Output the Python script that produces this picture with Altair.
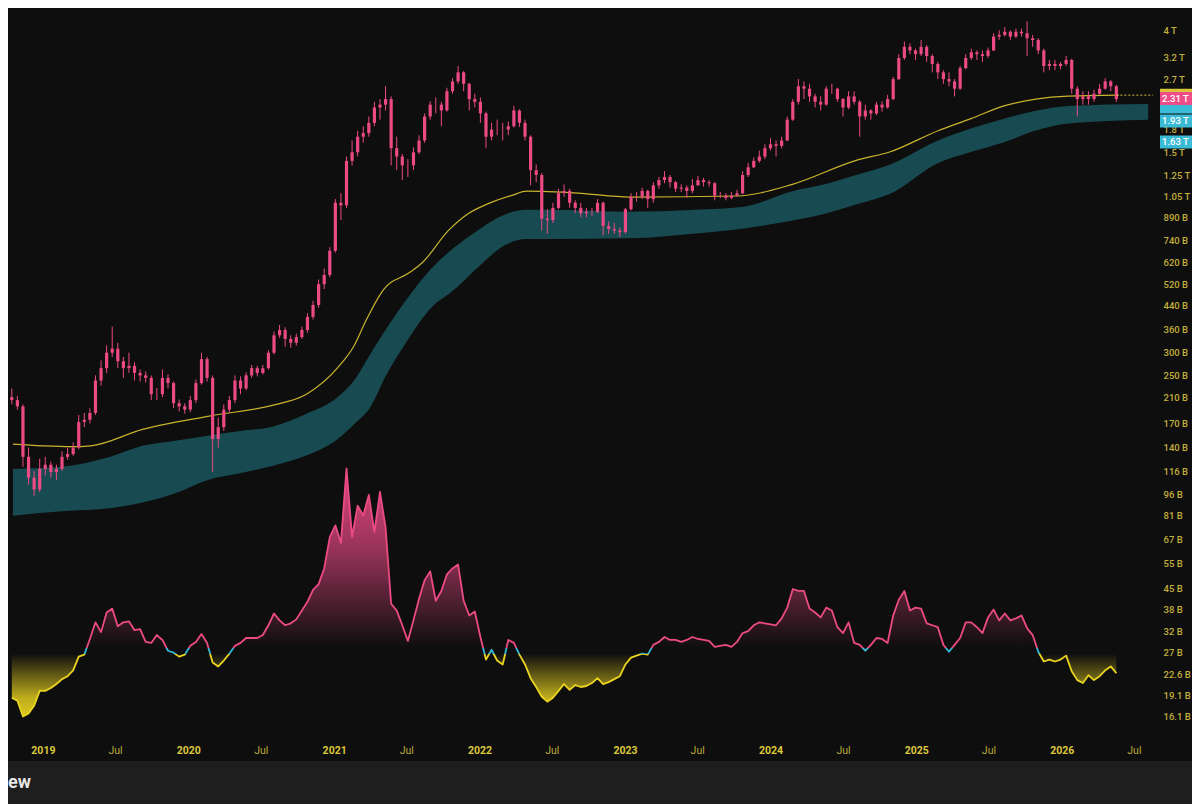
import altair as alt
import pandas as pd

# ---------------- data ----------------
# Total crypto market cap, bi-weekly candles, values in billions USD
CANDLE_START = "2018-10-15"
FIRST_OPEN = 210
CLOSE = [205, 195, 130, 110, 100, 118, 122, 115, 118, 130,
         133, 140, 172, 175, 185, 240, 265, 300, 310, 280,
         265, 270, 255, 250, 245, 215, 215, 245, 235, 200,
         195, 190, 205, 235, 285, 245, 150, 165, 190, 205,
         240, 225, 250, 265, 255, 265, 300, 345, 360, 335,
         325, 340, 360, 400, 440, 520, 560, 680, 1000, 980,
         1400, 1500, 1700, 1750, 1900, 2150, 2200, 2300, 1550, 1450,
         1350, 1350, 1500, 1650, 2000, 2200, 2200, 2100, 2450, 2650,
         2850, 2600, 2300, 2250, 2050, 1700, 1800, 1800, 1800, 1850,
         2100, 1900, 1700, 1300, 1250, 880, 870, 960, 1080, 1100,
         1000, 960, 920, 930, 930, 1000, 830, 810, 800, 790,
         950, 1050, 1050, 1100, 1030, 1150, 1200, 1230, 1180, 1120,
         1130, 1100, 1150, 1200, 1180, 1170, 1060, 1060, 1040, 1060,
         1080, 1250, 1330, 1400, 1450, 1550, 1600, 1580, 1650, 1950,
         2250, 2550, 2500, 2350, 2250, 2200, 2500, 2500, 2300, 2150,
         2350, 2250, 2000, 2100, 2050, 2200, 2150, 2300, 2700, 3200,
         3500, 3400, 3300, 3500, 3250, 3050, 2850, 2700, 2650, 2500,
         2950, 3200, 3350, 3300, 3250, 3400, 3800, 3850, 3950, 3800,
         3950, 3900, 3750, 3700, 3400, 3000, 3050, 3000, 3050, 3150,
         2500, 2300, 2350, 2300, 2400, 2500, 2650, 2550, 2300]
HIGH = [225, 212, 198, 140, 116, 128, 130, 125, 122, 136,
        140, 146, 182, 185, 192, 250, 282, 318, 370, 325,
        290, 300, 278, 262, 258, 250, 226, 262, 252, 238,
        206, 200, 212, 242, 300, 290, 250, 178, 198, 212,
        250, 248, 256, 272, 270, 272, 306, 356, 375, 368,
        345, 350, 370, 412, 455, 540, 590, 700, 1030, 1080,
        1450, 1650, 1780, 1850, 2000, 2250, 2300, 2550, 2350, 1700,
        1480, 1420, 1560, 1720, 2050, 2260, 2330, 2250, 2520, 2720,
        3000, 2880, 2620, 2400, 2330, 2080, 1900, 1950, 1900, 1920,
        2180, 2120, 1950, 1720, 1360, 1270, 950, 1000, 1120, 1160,
        1120, 1020, 1000, 960, 960, 1030, 1010, 860, 850, 820,
        960, 1080, 1090, 1130, 1110, 1180, 1230, 1290, 1250, 1190,
        1160, 1150, 1210, 1240, 1220, 1200, 1180, 1090, 1080, 1090,
        1110, 1290, 1380, 1440, 1520, 1600, 1680, 1650, 1700, 2000,
        2300, 2700, 2650, 2600, 2400, 2350, 2550, 2600, 2520, 2320,
        2450, 2450, 2280, 2200, 2120, 2250, 2260, 2380, 2750, 3300,
        3650, 3600, 3450, 3700, 3550, 3300, 3100, 2900, 2850, 2700,
        3000, 3300, 3450, 3400, 3400, 3480, 3900, 4000, 4100, 4000,
        4050, 4050, 4300, 3850, 3750, 3450, 3150, 3150, 3100, 3250,
        3180, 2550, 2450, 2450, 2480, 2600, 2720, 2680, 2580]
LOW = [198, 190, 120, 104, 95, 98, 112, 110, 108, 116,
       127, 131, 138, 165, 170, 182, 230, 255, 290, 265,
       245, 255, 240, 238, 236, 205, 205, 210, 225, 192,
       187, 184, 186, 200, 232, 238, 115, 140, 160, 185,
       200, 215, 222, 245, 248, 252, 262, 296, 338, 315,
       312, 318, 335, 352, 392, 430, 500, 550, 670, 870,
       960, 1350, 1450, 1620, 1700, 1850, 1950, 2100, 1350, 1300,
       1200, 1230, 1300, 1480, 1620, 1950, 2050, 1850, 2080, 2400,
       2600, 2450, 2100, 2150, 1900, 1550, 1650, 1720, 1650, 1720,
       1830, 1840, 1650, 1150, 1180, 800, 780, 850, 950, 1050,
       960, 920, 890, 890, 900, 920, 770, 780, 780, 760,
       780, 940, 1010, 1030, 960, 1000, 1120, 1170, 1130, 1090,
       1090, 1040, 1080, 1150, 1140, 1140, 1020, 1040, 1020, 1030,
       1050, 1070, 1230, 1320, 1380, 1420, 1520, 1450, 1550, 1640,
       1930, 2200, 2300, 2250, 2150, 2100, 2180, 2400, 2250, 2000,
       2120, 2200, 1700, 1950, 1950, 2020, 2080, 2130, 2280, 2680,
       3150, 3300, 3150, 3250, 3100, 2850, 2700, 2600, 2550, 2350,
       2480, 2920, 3150, 3150, 3100, 3200, 3380, 3700, 3800, 3700,
       3750, 3800, 3250, 3500, 3300, 2850, 2900, 2900, 2920, 3000,
       2400, 2000, 2200, 2200, 2250, 2380, 2480, 2450, 2250]

# Oscillator (same bi-weekly dates, index units)
OSC = [-12.25, -13, -17, -16.25, -14.25, -10.5, -10.5, -9.75, -8.75, -7.5,
       -6.75, -5.25, -1.75, -1.25, 2.75, 7, 4.5, 9.5, 10.5, 6,
       7, 7.25, 5, 5.25, 2, 1.75, 3.75, 2.5, -0.25, -0.75,
       -1.75, -1.25, 1, 2, 4, 1.75, -3.25, -4.25, -2.75, -1,
       1, 1.75, 3, 3, 3, 3.75, 6.25, 9.25, 7.5, 6.25,
       6.75, 7.75, 10, 12.25, 15.25, 16.75, 20.75, 28.75, 31.75, 27.25,
       46.25, 28.75, 36.75, 34.25, 39.5, 30, 40.25, 31.25, 11.75, 10,
       6.25, 2.25, 7.5, 13, 17.75, 20, 12.5, 15, 19.25, 20.75,
       21.75, 12.5, 8.75, 9.75, 3.25, -2.5, 0, -2.75, -3.75, 2.5,
       1.75, -1.25, -3.75, -7.25, -9.5, -12, -13.25, -12.25, -10.5, -8.75,
       -10.25, -9, -9.5, -9.25, -8.5, -7.25, -8.75, -8.25, -7.5, -6.75,
       -3.75, -2, -1.5, -1, -1.25, 1.25, 2, 3.25, 2.5, 2.5,
       2, 2.5, 3.25, 2.75, 2.5, 2.25, 0.75, 1, 1.25, 0.75,
       2, 4.25, 4.75, 6.25, 7, 6.75, 6.5, 6.25, 8, 10.75,
       15.5, 15, 15, 10.5, 9.5, 8.25, 10.75, 10, 5.75, 4.25,
       7, 1.75, 1.25, -0.25, 1.25, 3, 2.75, 1.75, 8.75, 12.75,
       15, 10, 10.75, 10.5, 6.75, 6.25, 5.75, 1.25, -0.5, 1.25,
       3, 7, 7, 5.75, 4.25, 8.25, 10.25, 7.5, 9.25, 7.5,
       8, 8.75, 5.5, 3.75, -0.5, -3, -2.5, -3, -2.5, -1.5,
       -5.5, -7.75, -8.5, -6.5, -7.75, -6.75, -5.25, -4.25, -6]
OSC_UPPER = 0.5
OSC_LOWER = -1.0

# Long moving average (yellow line), billions
MA_DATES = ["2018-10-18", "2018-12-31", "2019-03-13", "2019-05-01", "2019-09-08",
            "2020-02-19", "2020-08-01", "2020-10-21", "2021-01-10", "2021-02-20",
            "2021-03-21", "2021-05-04", "2021-07-09", "2021-08-10", "2021-10-15",
            "2021-12-03", "2022-01-21", "2022-03-25", "2022-04-29", "2022-09-05",
            "2023-01-13", "2023-10-09", "2024-02-25", "2024-08-07", "2024-10-26",
            "2025-02-26", "2025-05-18", "2025-08-09", "2025-10-28", "2026-01-17",
            "2026-05-24"]
MA_VALUES = [144, 142, 141, 142, 162, 180, 197, 214, 266, 317,
             386, 496, 571, 618, 801, 916, 991, 1064, 1098, 1081,
             1047, 1056, 1160, 1412, 1504, 1788, 1965, 2177, 2300, 2355,
             2374]

# Cyan band, billions
BAND_DATES = ["2018-10-18", "2019-02-17", "2019-06-19", "2019-09-08", "2019-11-29",
              "2020-02-19", "2020-05-10", "2020-08-01", "2020-10-21", "2021-01-10",
              "2021-02-20", "2021-04-02", "2021-05-11", "2021-06-22", "2021-09-04",
              "2021-10-22", "2022-01-04", "2022-02-22", "2022-04-29", "2022-06-24",
              "2023-01-13", "2023-06-26", "2023-10-26", "2024-02-25", "2024-05-16",
              "2024-08-07", "2024-10-26", "2025-02-26", "2025-05-18", "2025-08-09",
              "2025-10-28", "2026-01-17", "2026-08-06"]
BAND_TOP = [118, 120, 130, 142, 148, 154, 160, 166, 183, 210,
            240, 297, 362, 441, 594, 685, 814, 895, 945, 945,
            930, 945, 968, 1098, 1160, 1255, 1358, 1653, 1817, 1965,
            2094, 2177, 2212]
BAND_BOTTOM = [81, 84, 86, 90, 97, 108, 114, 121, 131, 150,
               169, 194, 250, 312, 434, 488, 608, 696, 747, 747,
               752, 782, 814, 867, 916, 991, 1073, 1379, 1504, 1627,
               1788, 1890, 1950]

Y_TICKS = [4000, 3200, 2700, 1800, 1500, 1250, 1050, 890, 740, 620, 520, 440,
           360, 300, 250, 210, 170, 140, 116, 96, 81, 67, 55, 45, 38, 32, 27,
           22.6, 19.1, 16.1]
X_TICK_YEARS = [2019, 2020, 2021, 2022, 2023, 2024, 2025, 2026]

BADGE_VALUES = [2374, 2160, 2310, 1930, 1630]
BADGE_LABELS = ["", "", "2.31 T", "1.93 T", "1.63 T"]
BADGE_COLORS = ["#d9c43a", "#3bbad6", "#ee4d87", "#3bbad6", "#3bbad6"]

X_DOMAIN = ("2018-10-18", "2026-08-18")
Y_DOMAIN = [13.92, 4780]
OSC_DOMAIN = [-21.75, 163.75]

# ---------------- style ----------------
W, H = 1150, 727
PINK = "#ec4a84"
CYAN = "#36b6d4"
YELLOW = "#e9d320"
BG = "#0e0e0e"
FOOTER_BG = "#1e1e1e"
FONT = "Roboto"

# ---------------- frames ----------------
dates = pd.date_range(CANDLE_START, periods=len(CLOSE), freq="14D")
candles = pd.DataFrame({"date": dates, "open": [FIRST_OPEN] + CLOSE[:-1],
                        "close": CLOSE, "high": HIGH, "low": LOW})
osc = pd.DataFrame({"date": dates, "osc": OSC})
ma = pd.DataFrame({"date": pd.to_datetime(MA_DATES), "ma": MA_VALUES})
band = pd.DataFrame({"date": pd.to_datetime(BAND_DATES), "top": BAND_TOP, "bottom": BAND_BOTTOM})
x_end = pd.Timestamp(X_DOMAIN[1])
last = pd.DataFrame({"d0": [dates[-1]], "d1": [x_end], "v": [MA_VALUES[-1]]})
badges = pd.DataFrame({"v": BADGE_VALUES, "label": BADGE_LABELS, "color": BADGE_COLORS})
footer = pd.DataFrame({"t": ["ew"]})


def dt(s):
    d = pd.Timestamp(s)
    return alt.DateTime(year=d.year, month=d.month, date=d.day)


xscale = alt.Scale(domain=[dt(X_DOMAIN[0]), dt(X_DOMAIN[1])], nice=False)
xaxis = alt.Axis(
    values=[alt.DateTime(year=y, month=m, date=1) for y in X_TICK_YEARS for m in (1, 7)],
    labelExpr="month(datum.value) == 0 ? timeFormat(datum.value, '%Y') : 'Jul'",
    labelFontWeight={"condition": {"test": "month(datum.value) == 0", "value": "bold"}, "value": "normal"},
    labelColor={"condition": {"test": "month(datum.value) == 0", "value": "#dcc83c"}, "value": "#bba93a"},
    ticks=False, tickSize=0, domain=False, grid=False, labelPadding=15,
    labelBaseline="middle", labelFontSize=10.5, labelFont=FONT,
    labelOverlap=False, labelFlush=False, title=None)
yscale = alt.Scale(type="log", domain=Y_DOMAIN, nice=False, zero=False)
yaxis = alt.Axis(
    orient="right", values=Y_TICKS,
    labelExpr="datum.value >= 1000 ? (datum.value / 1000) + ' T' : datum.value + ' B'",
    ticks=False, tickSize=0, domain=False, grid=False, labelPadding=5,
    labelColor="#c3af3b", labelFontSize=9.5, labelFont=FONT, labelFontWeight=500,
    labelOverlap=False, labelFlush=False, title=None)
oscale = alt.Scale(domain=OSC_DOMAIN, nice=False, zero=False)


def X(f):
    return alt.X(f"{f}:T", scale=xscale, axis=xaxis)


def Y(f):
    return alt.Y(f"{f}:Q", scale=yscale, axis=yaxis)


def OY(f):
    return alt.Y(f"{f}:Q", scale=oscale, axis=None)


# ---------------- price layers ----------------
band_area = alt.Chart(band).mark_area(color="#1a5b63", opacity=0.8, interpolate="monotone").encode(
    x=X("date"), y=Y("top"), y2="bottom:Q")
ma_line = alt.Chart(ma).mark_line(color="#c9b42c", strokeWidth=1.2, interpolate="monotone").encode(
    x=X("date"), y=Y("ma"))
wicks = alt.Chart(candles).mark_rule(color=PINK, strokeWidth=1).encode(
    x=X("date"), y=Y("low"), y2="high:Q")
bodies = alt.Chart(candles).mark_bar(color=PINK, width=3.2).encode(
    x=X("date"), y=Y("open"), y2="close:Q")
dotted = alt.Chart(last).mark_rule(color="#d9c43a", strokeDash=[2, 2], strokeWidth=1).encode(
    x=X("d0"), x2="d1:T", y=Y("v"))
badge_rect = alt.Chart(badges).mark_rect(yOffset=-6.5, y2Offset=6.5).encode(
    x=alt.value(W + 2), x2=alt.value(W + 60), y=Y("v"), y2="v:Q",
    color=alt.Color("color:N", scale=None))
badge_text = alt.Chart(badges).mark_text(align="left", baseline="middle", fontSize=9.5,
                                         font=FONT, fontWeight=500, color="#ffffff").encode(
    x=alt.value(W + 4), y=Y("v"), text="label:N")
price = alt.layer(band_area, ma_line, wicks, bodies, dotted, badge_rect, badge_text)

# ---------------- oscillator layers ----------------
umax, umin = max(OSC), min(OSC)
o1 = (umax - OSC_UPPER) / (umax - umin)
o2 = (umax - OSC_LOWER) / (umax - umin)
line_grad = alt.Gradient(gradient="linear", x1=0, x2=0, y1=0, y2=1, stops=[
    alt.GradientStop(color=PINK, offset=0), alt.GradientStop(color=PINK, offset=o1),
    alt.GradientStop(color=CYAN, offset=o1), alt.GradientStop(color=CYAN, offset=o2),
    alt.GradientStop(color=YELLOW, offset=o2), alt.GradientStop(color=YELLOW, offset=1)])
pink_grad = alt.Gradient(gradient="linear", x1=0, x2=0, y1=0, y2=1, stops=[
    alt.GradientStop(color="rgba(236,74,132,0.95)", offset=0),
    alt.GradientStop(color="rgba(236,74,132,0.62)", offset=0.45),
    alt.GradientStop(color="rgba(236,74,132,0.28)", offset=0.75),
    alt.GradientStop(color="rgba(236,74,132,0)", offset=1)])
yellow_grad = alt.Gradient(gradient="linear", x1=0, x2=0, y1=0, y2=1, stops=[
    alt.GradientStop(color="rgba(233,211,32,0)", offset=0),
    alt.GradientStop(color="rgba(233,211,32,0.4)", offset=0.35),
    alt.GradientStop(color="rgba(233,211,32,0.8)", offset=0.7),
    alt.GradientStop(color="rgba(233,211,32,0.95)", offset=1)])

pink_area = alt.Chart(osc).transform_calculate(
    top=f"max(datum.osc, {OSC_UPPER})", base=f"{OSC_UPPER}").mark_area(color=pink_grad).encode(
    x=X("date"), y=OY("top"), y2="base:Q")
yellow_area = alt.Chart(osc).transform_calculate(
    bot=f"min(datum.osc, {OSC_LOWER})", base=f"{OSC_LOWER}").mark_area(color=yellow_grad).encode(
    x=X("date"), y=OY("base"), y2="bot:Q")
osc_line = alt.Chart(osc).mark_line(stroke=line_grad, strokeWidth=1.8, strokeJoin="round").encode(
    x=X("date"), y=OY("osc"))
oscl = alt.layer(pink_area, yellow_area, osc_line)

# ---------------- footer ----------------
foot_rect = alt.Chart(footer).mark_rect(color=FOOTER_BG).encode(
    x=alt.value(0), x2=alt.value(W + 34), y=alt.value(H + 26), y2=alt.value(H + 69))
foot_text = alt.Chart(footer).mark_text(align="left", baseline="middle", fontSize=18,
                                        fontWeight="bold", font=FONT, color="#e6e6e6").encode(
    x=alt.value(0), y=alt.value(H + 48), text="t:N")
foot = alt.layer(foot_rect, foot_text)

chart = alt.layer(price, oscl, foot).resolve_scale(y="independent").properties(
    width=W, height=H,
    autosize=alt.AutoSizeParams(type="none"),
    padding={"left": 0, "top": 0, "right": 34, "bottom": 69},
    background=BG,
).configure_view(stroke=None)

chart.save("out.html", embed_options={"renderer": "svg", "actions": False})
